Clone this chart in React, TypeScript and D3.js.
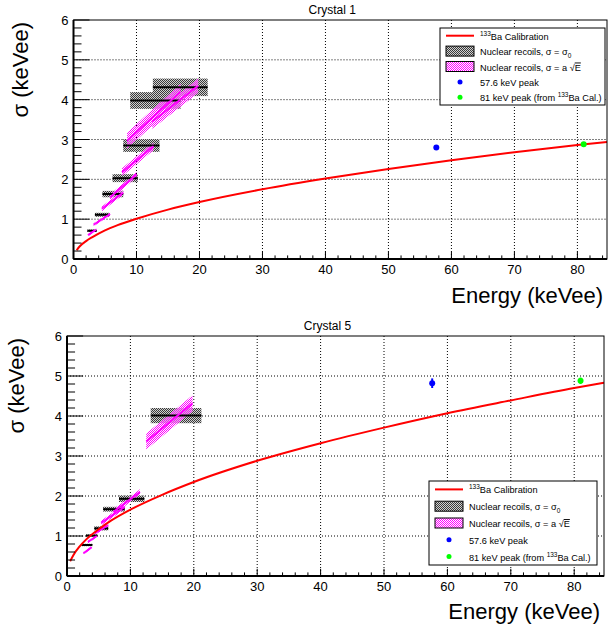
import React from "react";
import * as d3 from "d3";

// ---------- DATA ----------
const calibE = [0.5, 1, 2, 3, 5, 7, 10, 15, 20, 30, 40, 50, 60, 70, 80, 84.7];
const calibSigma1 = [0.22, 0.32, 0.45, 0.55, 0.72, 0.85, 1.01, 1.24, 1.43, 1.75, 2.02, 2.26, 2.48, 2.68, 2.86, 2.94];
const calibSigma5 = [0.37, 0.52, 0.74, 0.91, 1.17, 1.39, 1.66, 2.03, 2.35, 2.88, 3.32, 3.71, 4.07, 4.39, 4.7, 4.83];

// Nuclear recoils, sigma = sigma0 (boxes)
const nrELow1 = [2.2, 3.4, 4.6, 6.2, 7.9, 9.0, 12.6];
const nrEHigh1 = [3.7, 5.7, 7.9, 10.2, 13.65, 17.0, 21.3];
const nrSigma1 = [0.71, 1.11, 1.63, 2.03, 2.85, 3.98, 4.31];
const nrErr1 = [0.03, 0.05, 0.08, 0.1, 0.16, 0.21, 0.22];

const nrELow5 = [2.3, 3.0, 4.3, 5.7, 8.2, 13.2];
const nrEHigh5 = [4.0, 4.8, 6.5, 9.1, 12.2, 21.2];
const nrSigma5 = [0.775, 1.01, 1.19, 1.67, 1.93, 4.01];
const nrErr5 = [0.03, 0.03, 0.05, 0.06, 0.08, 0.19];

// Nuclear recoils, sigma = a sqrt(E) (bands)
const bandELow1 = [2.3, 3.2, 4.5, 5.8, 7.7, 8.5, 12.5];
const bandEHigh1 = [3.6, 5.8, 7.9, 10.0, 12.7, 17.0, 19.8];
const bandSigLow1 = [0.6, 0.86, 1.26, 1.55, 2.18, 2.97, 3.45];
const bandSigHigh1 = [0.74, 1.13, 1.67, 2.12, 2.83, 4.2, 4.35];
const bandErr1 = [0.03, 0.04, 0.06, 0.07, 0.1, 0.2, 0.18];

const bandELow5 = [2.6, 3.3, 4.4, 5.4, 7.3, 12.5];
const bandEHigh5 = [3.9, 4.7, 6.5, 9.1, 11.5, 19.8];
const bandSigLow5 = [0.57, 0.85, 1.07, 1.33, 1.6, 3.36];
const bandSigHigh5 = [0.72, 1.0, 1.27, 1.73, 2.1, 4.32];
const bandErr5 = [0.03, 0.03, 0.04, 0.06, 0.07, 0.2];

// Peaks
const peakE = [57.6, 81];
const peakColors = ["#0000ff", "#00ff00"];
const peakSigma1 = [2.8, 2.88];
const peakErr1 = [0.03, 0.03];
const peakSigma5 = [4.82, 4.88];
const peakErr5 = [0.12, 0.08];

const xTicks = [0, 10, 20, 30, 40, 50, 60, 70, 80];
const yTicks = [0, 1, 2, 3, 4, 5, 6];
const titles = ["Crystal 1", "Crystal 5"];
const xLabel = "Energy (keVee)";
const yLabel = "σ (keVee)";

const FONT = "'Liberation Sans', Arial, Helvetica, sans-serif";
const LEG_FS = 9.2;

type PanelProps = {
  id: string;
  title: string;
  calib: number[];
  nrLo: number[]; nrHi: number[]; nrS: number[]; nrE: number[];
  bLo: number[]; bHi: number[]; bS0: number[]; bS1: number[]; bE: number[];
  pS: number[]; pE: number[];
  g: { left: number; right: number; top: number; bottom: number };
  titleY: number;
  yLabelX: number;
  xLabelY: number;
  leg: { x: number; y: number; w: number; h: number };
};

function Panel(p: PanelProps) {
  const { g } = p;
  const x = d3.scaleLinear().domain([0, 84.7]).range([g.left, g.right]);
  const y = d3.scaleLinear().domain([0, 6]).range([g.bottom, g.top]);
  const line = d3.line<number>().x((_, i) => x(calibE[i])).y((d) => y(d)).curve(d3.curveMonotoneX);
  const minorX = d3.range(0, 85, 2);
  const minorY = d3.range(0, 6.01, 0.2);
  const frameW = g.right - g.left;
  const frameH = g.bottom - g.top;
  const yMaj = frameW * 0.03, yMin = yMaj / 2;
  const xMaj = frameH * 0.03, xMin = xMaj / 2;
  const clip = `clip-${p.id}`;
  const rowH = p.leg.h / 5;
  const rowY = (i: number) => p.leg.y + rowH * (i + 0.5);
  const ix0 = p.leg.x + 6, ix1 = p.leg.x + 34, tx = p.leg.x + 40;
  const icx = (ix0 + ix1) / 2;
  return (
    <g>
      <defs>
        <clipPath id={clip}>
          <rect x={g.left} y={g.top} width={frameW} height={frameH} />
        </clipPath>
      </defs>
      {/* grid */}
      {xTicks.slice(1).map((t) => (
        <line key={"gx" + t} x1={x(t)} x2={x(t)} y1={g.top} y2={g.bottom} stroke="#000" strokeWidth={1} strokeDasharray="1,2" />
      ))}
      {yTicks.slice(1, 6).map((t) => (
        <line key={"gy" + t} x1={g.left} x2={g.right} y1={y(t)} y2={y(t)} stroke="#000" strokeWidth={1} strokeDasharray="1,2" />
      ))}
      <g clipPath={`url(#${clip})`}>
        {/* boxes */}
        {p.nrS.map((s, i) => (
          <rect key={"bx" + i} x={x(p.nrLo[i])} width={x(p.nrHi[i]) - x(p.nrLo[i])} y={y(s + p.nrE[i])} height={y(s - p.nrE[i]) - y(s + p.nrE[i])} fill="url(#grayPat)" />
        ))}
        {/* bands */}
        {p.bS0.map((s0, i) => {
          const s1 = p.bS1[i], e = p.bE[i];
          const pts: [number, number][] = [
            [x(p.bLo[i]), y(s0 - e)], [x(p.bHi[i]), y(s1 - e)], [x(p.bHi[i]), y(s1 + e)], [x(p.bLo[i]), y(s0 + e)],
          ];
          return <polygon key={"bd" + i} points={pts.map((q) => q.join(",")).join(" ")} fill="url(#magPat)" />;
        })}
        {p.nrS.map((s, i) => (
          <line key={"bl" + i} x1={x(p.nrLo[i])} x2={x(p.nrHi[i])} y1={y(s)} y2={y(s)} stroke="#000" strokeWidth={2} />
        ))}
        {p.bS0.map((s0, i) => (
          <line key={"ml" + i} x1={x(p.bLo[i])} x2={x(p.bHi[i])} y1={y(s0)} y2={y(p.bS1[i])} stroke="#ff00ff" strokeWidth={2} />
        ))}
        <path d={line(p.calib) || ""} fill="none" stroke="#ff0000" strokeWidth={2} />
        {peakE.map((e, i) => (
          <g key={"pk" + i}>
            <line x1={x(e)} x2={x(e)} y1={y(p.pS[i] - p.pE[i])} y2={y(p.pS[i] + p.pE[i])} stroke={peakColors[i]} strokeWidth={2} />
            <circle cx={x(e)} cy={y(p.pS[i])} r={3} fill={peakColors[i]} />
          </g>
        ))}
      </g>
      {/* frame */}
      <rect x={g.left} y={g.top} width={frameW} height={frameH} fill="none" stroke="#000" strokeWidth={1} />
      <line x1={g.left} x2={g.right} y1={g.bottom} y2={g.bottom} stroke="#000" strokeWidth={2} />
      <line x1={g.left} x2={g.left} y1={g.top} y2={g.bottom} stroke="#000" strokeWidth={2} />
      {/* ticks */}
      {minorX.map((t) => (
        <line key={"mx" + t} x1={x(t)} x2={x(t)} y1={g.bottom} y2={g.bottom - (t % 10 === 0 ? xMaj : xMin)} stroke="#000" strokeWidth={1} />
      ))}
      {minorY.map((t, i) => (
        <line key={"my" + i} x1={g.left} x2={g.left + (i % 5 === 0 ? yMaj : yMin)} y1={y(t)} y2={y(t)} stroke="#000" strokeWidth={1} />
      ))}
      {xTicks.map((t) => (
        <text key={"xl" + t} x={x(t)} y={g.bottom + 15} textAnchor="middle" fontSize={13} fontFamily={FONT}>{t}</text>
      ))}
      {yTicks.map((t) => (
        <text key={"yl" + t} x={g.left - 5} y={y(t) + 5} textAnchor="end" fontSize={13} fontFamily={FONT}>{t}</text>
      ))}
      <text x={(g.left + g.right) / 2 - 8} y={p.titleY} textAnchor="middle" fontSize={12} fontFamily={FONT}>{p.title}</text>
      <text x={g.right - 4} y={p.xLabelY} textAnchor="end" fontSize={22} fontFamily={FONT}>{xLabel}</text>
      <text transform={`translate(${p.yLabelX},${g.top + 2}) rotate(-90)`} textAnchor="end" fontSize={22} fontFamily={FONT}>{yLabel}</text>
      {/* legend */}
      <rect x={p.leg.x} y={p.leg.y} width={p.leg.w} height={p.leg.h} fill="#fff" stroke="#000" strokeWidth={1} />
      <line x1={ix0} x2={ix1} y1={rowY(0)} y2={rowY(0)} stroke="#ff0000" strokeWidth={2} />
      <text x={tx} y={rowY(0) + 4} fontSize={LEG_FS} fontFamily={FONT}>
        <tspan fontSize={6.5} dy={-4}>133</tspan><tspan dy={4}>Ba Calibration</tspan>
      </text>
      <rect x={ix0} y={rowY(1) - 5} width={ix1 - ix0} height={10} fill="url(#grayPat)" stroke="#000" strokeWidth={1} />
      <text x={tx} y={rowY(1) + 4} fontSize={LEG_FS} fontFamily={FONT}>
        Nuclear recoils, σ = σ<tspan fontSize={6.5} dy={3}>0</tspan>
      </text>
      <rect x={ix0} y={rowY(2) - 5} width={ix1 - ix0} height={10} fill="url(#magPat)" stroke="#000" strokeWidth={1} />
      <text x={tx} y={rowY(2) + 4} fontSize={LEG_FS} fontFamily={FONT}>
        Nuclear recoils, σ = a √<tspan style={{ textDecoration: "overline" }}>E</tspan>
      </text>
      <circle cx={icx} cy={rowY(3)} r={2.5} fill={peakColors[0]} />
      <text x={tx} y={rowY(3) + 4} fontSize={LEG_FS} fontFamily={FONT}>57.6 keV peak</text>
      <circle cx={icx} cy={rowY(4)} r={2.5} fill={peakColors[1]} />
      <text x={tx} y={rowY(4) + 4} fontSize={LEG_FS} fontFamily={FONT}>
        81 keV peak (from <tspan fontSize={6.5} dy={-4}>133</tspan><tspan dy={4}>Ba Cal.)</tspan>
      </text>
    </g>
  );
}

export default function App() {
  return (
    <svg width={609} height={629} style={{ position: "absolute", left: 0, top: 0, background: "#fff" }}>
      <defs>
        <pattern id="grayPat" width={2} height={2} patternUnits="userSpaceOnUse">
          <rect width={2} height={2} fill="#d0d0d0" />
          <rect x={0} y={0} width={1} height={1} fill="#3a3a3a" />
          <rect x={1} y={1} width={1} height={1} fill="#3a3a3a" />
        </pattern>
        <pattern id="magPat" width={2} height={2} patternUnits="userSpaceOnUse">
          <rect x={0} y={0} width={1} height={1} fill="#ff00ff" />
          <rect x={1} y={1} width={1} height={1} fill="#ff00ff" />
        </pattern>
      </defs>
      <rect width={609} height={629} fill="#fff" />
      <Panel
        id="p1" title={titles[0]} calib={calibSigma1}
        nrLo={nrELow1} nrHi={nrEHigh1} nrS={nrSigma1} nrE={nrErr1}
        bLo={bandELow1} bHi={bandEHigh1} bS0={bandSigLow1} bS1={bandSigHigh1} bE={bandErr1}
        pS={peakSigma1} pE={peakErr1}
        g={{ left: 73.5, right: 607, top: 20, bottom: 259 }}
        titleY={14} yLabelX={28} xLabelY={303}
        leg={{ x: 440, y: 28, w: 165, h: 77 }}
      />
      <Panel
        id="p5" title={titles[1]} calib={calibSigma5}
        nrLo={nrELow5} nrHi={nrEHigh5} nrS={nrSigma5} nrE={nrErr5}
        bLo={bandELow5} bHi={bandEHigh5} bS0={bandSigLow5} bS1={bandSigHigh5} bE={bandErr5}
        pS={peakSigma5} pE={peakErr5}
        g={{ left: 67, right: 604, top: 336, bottom: 576 }}
        titleY={330} yLabelX={24} xLabelY={619}
        leg={{ x: 429, y: 481, w: 168, h: 84 }}
      />
    </svg>
  );
}
